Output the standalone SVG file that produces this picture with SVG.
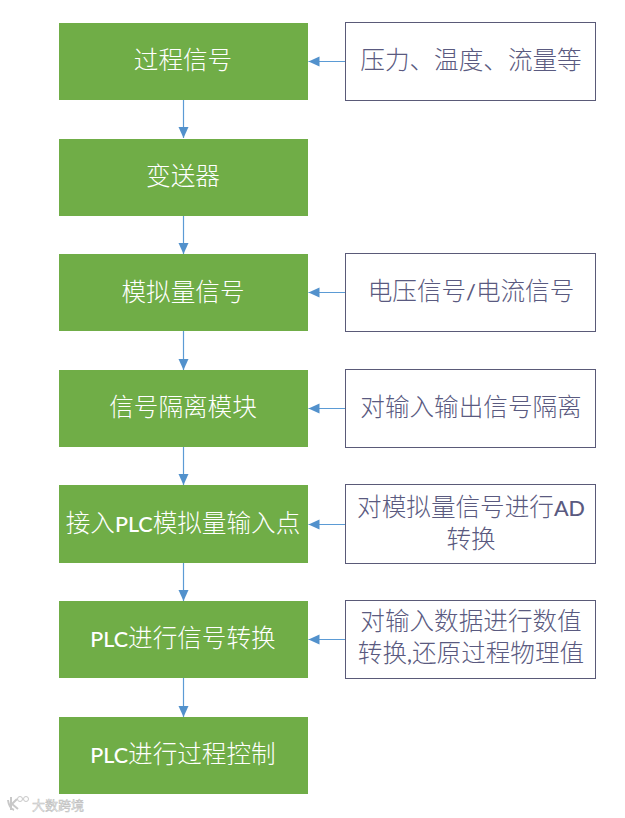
<svg xmlns="http://www.w3.org/2000/svg" width="625" height="818" viewBox="0 0 625 818">
<style>
.n{fill:#70ad47}
.b{fill:#fff;stroke:#5a5a78;stroke-width:1}
.t{font-family:"Noto Sans CJK SC","Liberation Sans",sans-serif;font-size:24.6px;font-weight:300;text-anchor:middle}
.m{font-family:"Lato","Liberation Sans",sans-serif;font-size:21.5px;font-weight:500}
.w{fill:#fff}.p{fill:#5a5a80}
.c{stroke:#5b9bd5;stroke-width:1.2;fill:none;marker-end:url(#a)}
.wm{font-family:"Noto Sans CJK SC",sans-serif;font-size:13px;fill:#f0f0f0;stroke:#bdbdbd;stroke-width:.5}
.l{fill:none;stroke:#c8c8c8}
</style>
<defs><marker id="a" markerUnits="userSpaceOnUse" markerWidth="12" markerHeight="12" refX="11" refY="5.500" orient="auto"><path d="M0 0.500L11 5.500L0 10.500Z" fill="#5291cc"/></marker></defs>
<rect width="625" height="818" fill="#fff"/>
<g id="connectors">
<path class="c" d="M183.500 100V138"/><path class="c" d="M183.500 216V254"/><path class="c" d="M183.500 331V370"/><path class="c" d="M183.500 447V485"/><path class="c" d="M183.500 563V601"/><path class="c" d="M183.500 678V717"/>
<path class="c" d="M345 61.500H308.500"/><path class="c" d="M345 292.500H308.500"/><path class="c" d="M345 408.500H308.500"/><path class="c" d="M345 524.500H308.500"/><path class="c" d="M345 639.500H308.500"/>
</g>
<g id="n1"><rect class="n" x="59" y="23" width="249" height="77"/><text class="t w" x="183" y="69">过程信号</text></g>
<g id="n2"><rect class="n" x="59" y="139" width="249" height="77"/><text class="t w" x="183" y="185">变送器</text></g>
<g id="n3"><rect class="n" x="59" y="254" width="249" height="77"/><text class="t w" x="183" y="301">模拟量信号</text></g>
<g id="n4"><rect class="n" x="59" y="370" width="249" height="77"/><text class="t w" x="183" y="416">信号隔离模块</text></g>
<g id="n5"><rect class="n" x="59" y="485" width="249" height="78"/><text class="t w" x="183" y="532">接入<tspan class="m">PLC</tspan>模拟量输入点</text></g>
<g id="n6"><rect class="n" x="59" y="601" width="249" height="77"/><text class="t w" x="183" y="647"><tspan class="m">PLC</tspan>进行信号转换</text></g>
<g id="n7"><rect class="n" x="59" y="717" width="249" height="77"/><text class="t w" x="183" y="763"><tspan class="m">PLC</tspan>进行过程控制</text></g>
<g id="r1"><rect class="b" x="345.500" y="22.500" width="250" height="78"/><text class="t p" x="471" y="69">压力、温度、流量等</text></g>
<g id="r3"><rect class="b" x="345.500" y="253.500" width="250" height="78"/><text class="t p" x="471" y="300">电压信号<tspan class="m">/</tspan>电流信号</text></g>
<g id="r4"><rect class="b" x="345.500" y="369.500" width="250" height="78"/><text class="t p" x="471" y="416">对输入输出信号隔离</text></g>
<g id="r5"><rect class="b" x="345.500" y="484.500" width="250" height="79"/><text class="t p" x="471" y="516">对模拟量信号进行<tspan class="m">AD</tspan></text><text class="t p" x="471" y="548">转换</text></g>
<g id="r6"><rect class="b" x="345.500" y="600.500" width="250" height="78"/><text class="t p" x="471" y="630">对输入数据进行数值</text><text class="t p" x="471" y="662">转换<tspan class="m">,</tspan>还原过程物理值</text></g>
<g id="watermark"><text class="wm" x="32" y="810">大数跨境</text><path class="l" stroke-width="2" d="M8 800Q9 808 14 810M11 797V810M17 799L12 804L18 809"/><circle class="l" cx="20" cy="799" r="2.500"/><circle class="l" cx="26" cy="799" r="2.500"/></g>
</svg>
